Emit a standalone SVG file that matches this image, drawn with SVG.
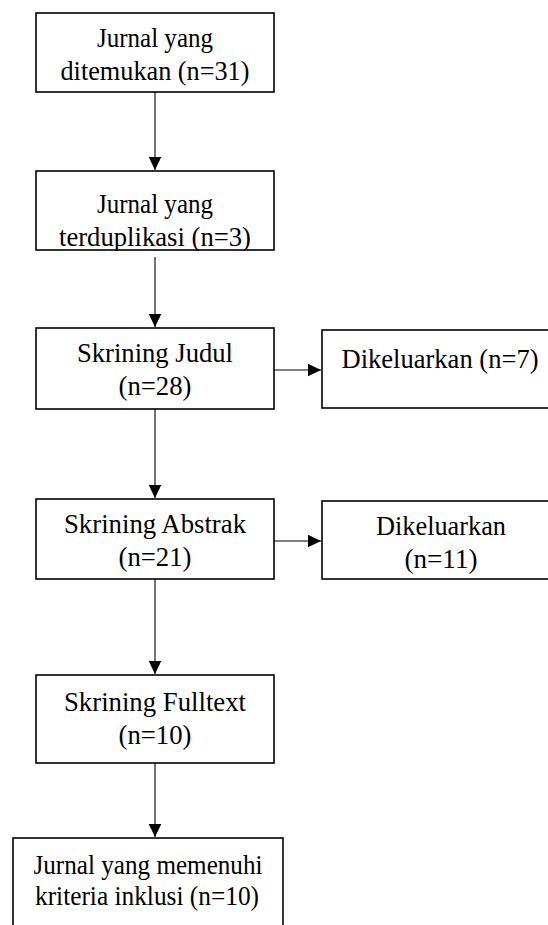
<svg xmlns="http://www.w3.org/2000/svg" width="548" height="925" viewBox="0 0 548 925">
<style>
.box{fill:none;stroke:#000;stroke-width:1.6}
.bg{fill:#fff;stroke:none}
.t{font-family:"Liberation Serif","Times New Roman",serif;font-size:27.5px;fill:#000;text-anchor:middle}
.c{fill:none;stroke:#000;stroke-width:1.1}
</style>
<defs>
<marker id="ah" markerUnits="userSpaceOnUse" markerWidth="14" markerHeight="14" viewBox="0 0 14 14" refX="13" refY="7" orient="auto">
<path d="M0,0.7 L13,7 L0,13.3 Z" fill="#000"/>
</marker>
</defs>
<rect width="548" height="925" fill="#fff"/>
<g id="connectors">
<line class="c" x1="155" y1="92" x2="155" y2="170" marker-end="url(#ah)"/>
<line class="c" x1="155" y1="250" x2="155" y2="327" marker-end="url(#ah)"/>
<line class="c" x1="155" y1="409" x2="155" y2="498" marker-end="url(#ah)"/>
<line class="c" x1="155" y1="579" x2="155" y2="674" marker-end="url(#ah)"/>
<line class="c" x1="155" y1="763" x2="155" y2="837" marker-end="url(#ah)"/>
<line class="c" x1="274" y1="370" x2="321" y2="370" marker-end="url(#ah)"/>
<line class="c" x1="274" y1="541" x2="321" y2="541" marker-end="url(#ah)"/>
</g>
<g id="n1">
<text class="t" x="155" y="47" textLength="116" lengthAdjust="spacingAndGlyphs">Jurnal yang</text>
<text class="t" x="155" y="80" textLength="189" lengthAdjust="spacingAndGlyphs">ditemukan (n=31)</text>
<rect class="box" x="36" y="13" width="238" height="79"/>
</g>
<g id="n2">
<text class="t" x="155" y="213" textLength="116" lengthAdjust="spacingAndGlyphs">Jurnal yang</text>
<text class="t" x="155" y="246" textLength="192" lengthAdjust="spacingAndGlyphs">terduplikasi (n=3)</text>
<rect class="bg" x="36" y="251" width="238" height="6"/>
<rect class="box" x="36" y="171" width="238" height="79"/>
</g>
<g id="n3">
<text class="t" x="155" y="362" textLength="156" lengthAdjust="spacingAndGlyphs">Skrining Judul</text>
<text class="t" x="155" y="395" textLength="73" lengthAdjust="spacingAndGlyphs">(n=28)</text>
<rect class="box" x="36" y="328" width="238" height="81"/>
</g>
<g id="n4">
<text class="t" x="440" y="368" textLength="197" lengthAdjust="spacingAndGlyphs">Dikeluarkan (n=7)</text>
<rect class="box" x="322" y="330" width="234" height="78"/>
</g>
<g id="n5">
<text class="t" x="155" y="533" textLength="182" lengthAdjust="spacingAndGlyphs">Skrining Abstrak</text>
<text class="t" x="155" y="566" textLength="73" lengthAdjust="spacingAndGlyphs">(n=21)</text>
<rect class="box" x="36" y="499" width="238" height="80"/>
</g>
<g id="n6">
<text class="t" x="441" y="535" textLength="130" lengthAdjust="spacingAndGlyphs">Dikeluarkan</text>
<text class="t" x="441" y="568" textLength="73" lengthAdjust="spacingAndGlyphs">(n=11)</text>
<rect class="box" x="322" y="501" width="234" height="78"/>
</g>
<g id="n7">
<text class="t" x="155" y="711" textLength="182" lengthAdjust="spacingAndGlyphs">Skrining Fulltext</text>
<text class="t" x="155" y="744" textLength="73" lengthAdjust="spacingAndGlyphs">(n=10)</text>
<rect class="box" x="36" y="675" width="238" height="88"/>
</g>
<g id="n8">
<text class="t" x="148" y="874" textLength="229" lengthAdjust="spacingAndGlyphs">Jurnal yang memenuhi</text>
<text class="t" x="147" y="905" textLength="224" lengthAdjust="spacingAndGlyphs">kriteria inklusi (n=10)</text>
<rect class="box" x="13" y="838" width="270" height="100"/>
</g>
</svg>
